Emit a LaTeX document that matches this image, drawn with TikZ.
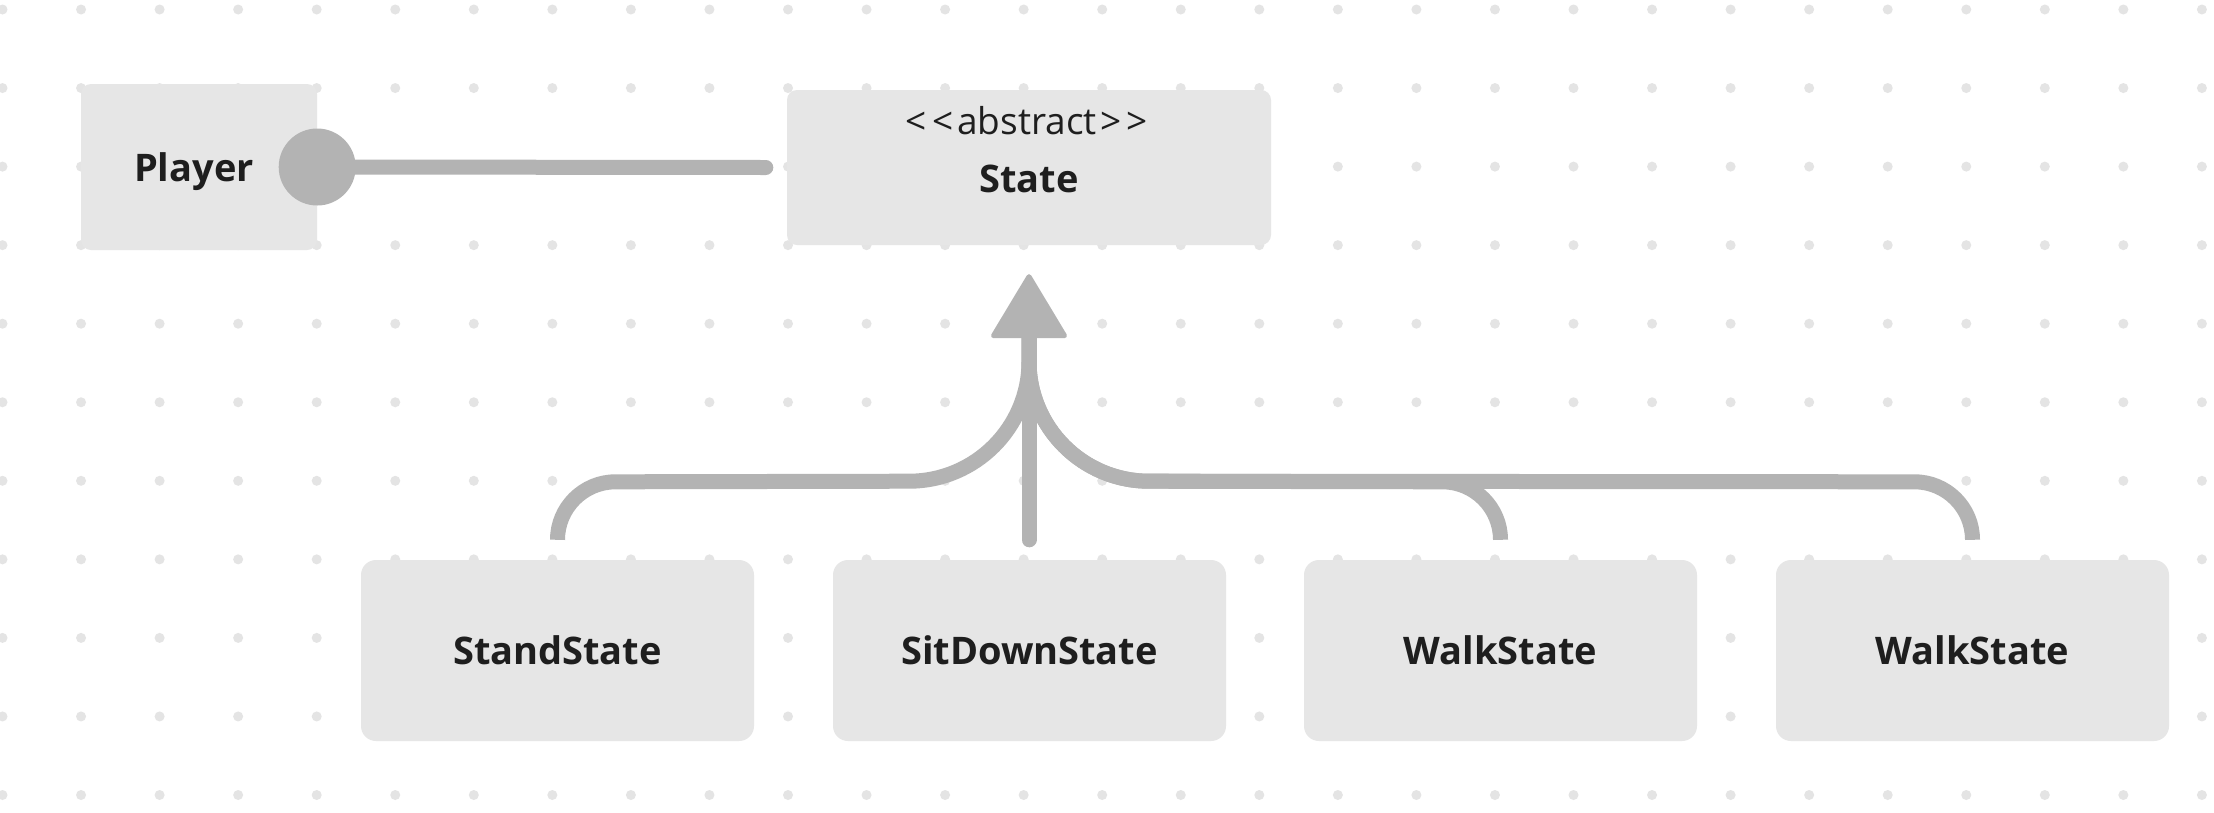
\documentclass[tikz,border=0pt]{standalone}
\usepackage{fontspec}
\setmainfont{Open Sans}
\usetikzlibrary{calc}
\definecolor{linegray}{HTML}{B3B3B3}
\definecolor{boxgray}{HTML}{E6E6E6}
\definecolor{dotgray}{HTML}{E4E4E4}
\definecolor{ink}{HTML}{1E1E1E}
\begin{document}
\begin{tikzpicture}[x=1pt,y=-1pt,
  box/.style={fill=boxgray, rounded corners=15pt, inner sep=0pt, text=ink,
    font=\bfseries\fontsize{38}{46}\selectfont, text height=28pt, text depth=0pt},
  childbox/.style={box, minimum width=393pt, minimum height=181pt},
  edge/.style={draw=linegray, line width=15pt},
  dot/.style={fill=dotgray},
  boldtext/.style={text=ink, font=\bfseries\fontsize{38}{46}\selectfont, inner sep=0pt},
  regtext/.style={text=ink, font=\fontsize{37}{44}\selectfont, inner sep=0pt}]
\useasboundingbox (0,0) rectangle (2214,812);
\fill[white] (0,0) rectangle (2214,812);
% dot grid
\foreach \i in {0,...,28}
  \foreach \j in {0,...,10}
    \fill[dot] (2.5+78.55*\i, 9.5+78.55*\j) circle (5);
% nodes
\node[box, rounded corners=10pt, minimum width=236pt, minimum height=166pt] (player) at (199,167) {\hspace*{-10pt}Player};
\node[box, rounded corners=10pt, minimum width=484pt, minimum height=155pt] (state) at (1029,167.5) {};
\node[regtext, anchor=base] (stereo) at (1027,134.5) {<\kern5pt<\kern4pt abstract\kern4pt>\kern5pt>};
\node[boldtext, anchor=base] (statename) at (1029,192) {State};
\node[childbox] (stand) at (557.5,650.5) {StandState};
\node[childbox] (sit) at (1029.5,650.5) {SitDownState};
\node[childbox] (walka) at (1500.5,650.5) {WalkState};
\node[childbox] (walkb) at (1972.5,650.5) {WalkState};
\coordinate (hub) at ($(state.south)+(0,93)$);
\coordinate (tip) at ($(state.south)+(0,29)$);
% association Player -- State
\draw[edge, line cap=round] (player.east) -- ($(state.west)+(-21,0)$);
\node[circle, fill=linegray, inner sep=0pt, minimum size=77pt] (ball) at (player.east) {};
% generalisation connectors
\draw[edge] ($(stand.north)+(0,-20)$) arc[start angle=180, end angle=270, radius=58]
  -- ($(hub)+(-120,143)$) arc[start angle=90, end angle=0, radius=120] -- (hub);
\draw[edge] ($(walka.north)+(0,-20)$) arc[start angle=0, end angle=-90, radius=58]
  -- ($(hub)+(120,143)$) arc[start angle=90, end angle=180, radius=120] -- (hub);
\draw[edge] ($(walkb.north)+(0,-20)$) arc[start angle=0, end angle=-90, radius=58]
  -- ($(hub)+(120,143)$) arc[start angle=90, end angle=180, radius=120] -- (hub);
\draw[edge, line cap=round] ($(sit.north)+(-0.5,-20)$) -- (hub);
% arrow head
\filldraw[draw=linegray, fill=linegray, line width=5pt, line join=round]
  ($(tip)+(0,2.5)$) -- ($(hub)+(-35.5,-2.5)$) -- ($(hub)+(35.5,-2.5)$) -- cycle;
\end{tikzpicture}
\end{document}
